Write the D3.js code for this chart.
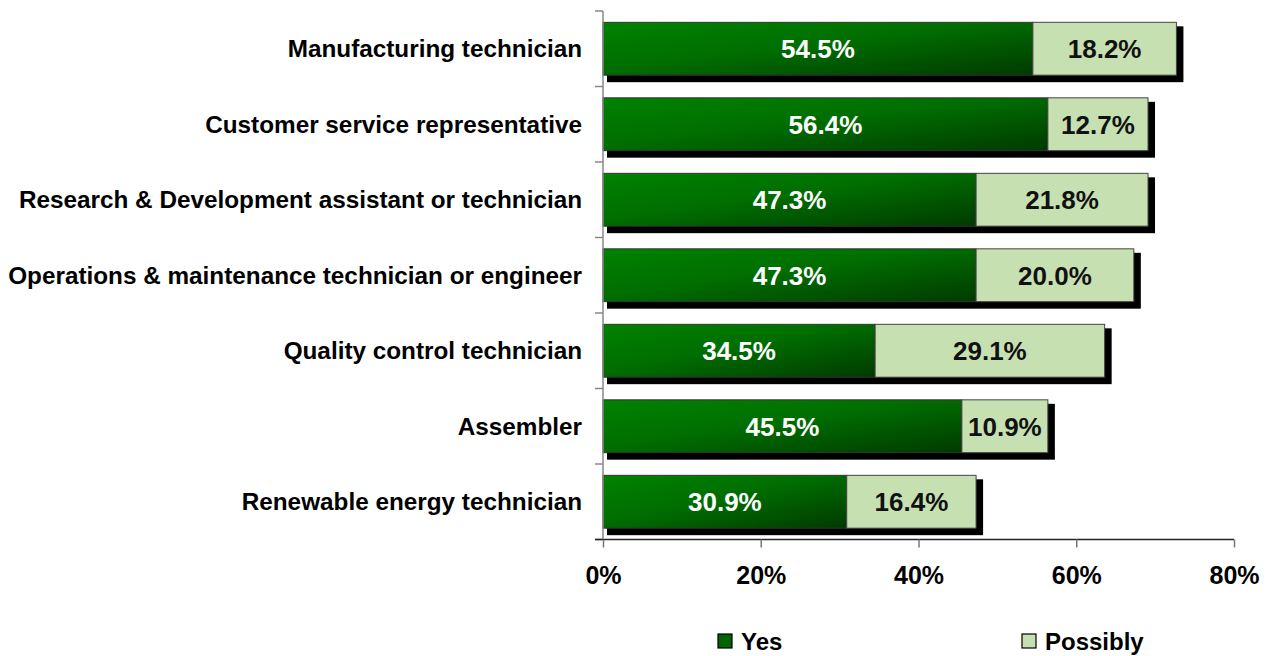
<!DOCTYPE html>
<html lang="en">
<head>
    <meta charset="utf-8">
    <title>Job interest</title>
    <style>
        body {
            margin: 0;
            background: #fff;
        }

        svg text {
            font-family: "Liberation Sans", Arial, sans-serif;
            font-weight: bold;
        }
    </style>
</head>
<body>
<svg class="chart"></svg>
<script src="https://cdnjs.cloudflare.com/ajax/libs/d3/7.8.5/d3.min.js"></script>
<script>

  const chartWidth = 1279;
  const chartHeight = 656;

  const categories = [
    "Manufacturing technician",
    "Customer service representative",
    "Research & Development assistant or technician",
    "Operations & maintenance technician or engineer",
    "Quality control technician",
    "Assembler",
    "Renewable energy technician"
  ];
  const yesValues = [54.5, 56.4, 47.3, 47.3, 34.5, 45.5, 30.9];
  const possiblyValues = [18.2, 12.7, 21.8, 20.0, 29.1, 10.9, 16.4];
  const xTicks = [0, 20, 40, 60, 80];
  const seriesNames = ["Yes", "Possibly"];

  const data = categories.map((c, i) => ({name: c, yes: yesValues[i], possibly: possiblyValues[i]}));

  const xScale = d3.scaleLinear()
    .domain([0, 80])
    .range([603, 1234]);

  const yScale = d3.scaleBand()
    .domain(categories)
    .range([11, 539.5])
    .paddingInner(0.3)
    .paddingOuter(0.15);

  const svg = d3.select(".chart")
    .attr("width", chartWidth)
    .attr("height", chartHeight);

  // gradient for the "Yes" part
  const grad = svg.append("defs").append("linearGradient")
    .attr("id", "yesGrad")
    .attr("x1", "0").attr("y1", "0")
    .attr("x2", "1").attr("y2", "1");
  grad.append("stop").attr("offset", "0%").attr("stop-color", "#008200");
  grad.append("stop").attr("offset", "45%").attr("stop-color", "#006e00");
  grad.append("stop").attr("offset", "100%").attr("stop-color", "#003a00");

  const bh = yScale.bandwidth();

  const rows = svg.selectAll("g.row")
    .data(data)
    .enter()
    .append("g")
    .attr("class", "row");

  // shadow
  rows.append("rect")
    .attr("x", xScale(0) + 4)
    .attr("y", d => yScale(d.name) + 4)
    .attr("width", d => xScale(d.yes + d.possibly) - xScale(0) + 3)
    .attr("height", bh + 3)
    .style("fill", "#000");

  rows.append("rect")
    .attr("x", xScale(0))
    .attr("y", d => yScale(d.name))
    .attr("width", d => xScale(d.yes) - xScale(0))
    .attr("height", bh)
    .style("fill", "url(#yesGrad)")
    .style("stroke", "#333")
    .style("stroke-width", 1);

  rows.append("rect")
    .attr("x", d => xScale(d.yes))
    .attr("y", d => yScale(d.name))
    .attr("width", d => xScale(d.yes + d.possibly) - xScale(d.yes))
    .attr("height", bh)
    .style("fill", "#c6e0b2")
    .style("stroke", "#444")
    .style("stroke-width", 1);

  rows.append("text")
    .attr("x", d => (xScale(0) + xScale(d.yes)) / 2)
    .attr("y", d => yScale(d.name) + bh / 2)
    .attr("dy", "0.36em")
    .attr("text-anchor", "middle")
    .style("font-size", "26px")
    .style("fill", "#fff")
    .text(d => d.yes.toFixed(1) + "%");

  rows.append("text")
    .attr("x", d => (xScale(d.yes) + xScale(d.yes + d.possibly)) / 2)
    .attr("y", d => yScale(d.name) + bh / 2)
    .attr("dy", "0.36em")
    .attr("text-anchor", "middle")
    .style("font-size", "26px")
    .style("fill", "#111")
    .text(d => d.possibly.toFixed(1) + "%");

  // y axis: line with ticks at band edges
  const yAxisG = svg.append("g");
  yAxisG.append("line")
    .attr("x1", xScale(0)).attr("x2", xScale(0))
    .attr("y1", yScale.range()[0]).attr("y2", yScale.range()[1])
    .style("stroke", "#888").style("stroke-width", 1.5);
  const edges = d3.range(0, categories.length + 1)
    .map(i => yScale.range()[0] + i * yScale.step());
  yAxisG.selectAll("line.tick")
    .data(edges)
    .enter()
    .append("line")
    .attr("class", "tick")
    .attr("x1", xScale(0) - 8).attr("x2", xScale(0))
    .attr("y1", d => d).attr("y2", d => d)
    .style("stroke", "#888").style("stroke-width", 1.5);

  yAxisG.selectAll("text")
    .data(categories)
    .enter()
    .append("text")
    .attr("x", 582)
    .attr("y", d => yScale(d) + bh / 2)
    .attr("dy", "0.36em")
    .attr("text-anchor", "end")
    .style("font-size", "24.3px")
    .style("fill", "#000")
    .text(d => d);

  // x axis
  const xAxis = d3.axisBottom(xScale)
    .tickValues(xTicks)
    .tickSize(8)
    .tickPadding(19)
    .tickFormat(d => d + "%");
  const xAxisG = svg.append("g")
    .attr("transform", "translate(0," + yScale.range()[1] + ")")
    .call(xAxis);
  xAxisG.select(".domain")
    .attr("d", "M" + (xScale(0) - 8) + ",0H" + xScale(80))
    .style("stroke", "#222").style("stroke-width", 1.5);
  xAxisG.selectAll(".tick line").style("stroke", "#777").style("stroke-width", 1.5);
  xAxisG.selectAll(".tick text")
    .style("font-size", "25px")
    .style("font-family", "'Liberation Sans', Arial, sans-serif")
    .style("fill", "#000");

  // legend
  const legendX = [718, 1022];
  const legendColors = ["#006400", "#c6e0b2"];
  const legend = svg.selectAll("g.legend")
    .data(seriesNames)
    .enter()
    .append("g")
    .attr("class", "legend")
    .attr("transform", (d, i) => "translate(" + legendX[i] + ",641)");
  legend.append("rect")
    .attr("x", 0).attr("y", -7)
    .attr("width", 14).attr("height", 14)
    .style("fill", (d, i) => legendColors[i])
    .style("stroke", "#000").style("stroke-width", 1.2);
  legend.append("text")
    .attr("x", 23)
    .attr("dy", "0.36em")
    .style("font-size", "24px")
    .style("fill", "#000")
    .text(d => d);

</script>
</body>
</html>
